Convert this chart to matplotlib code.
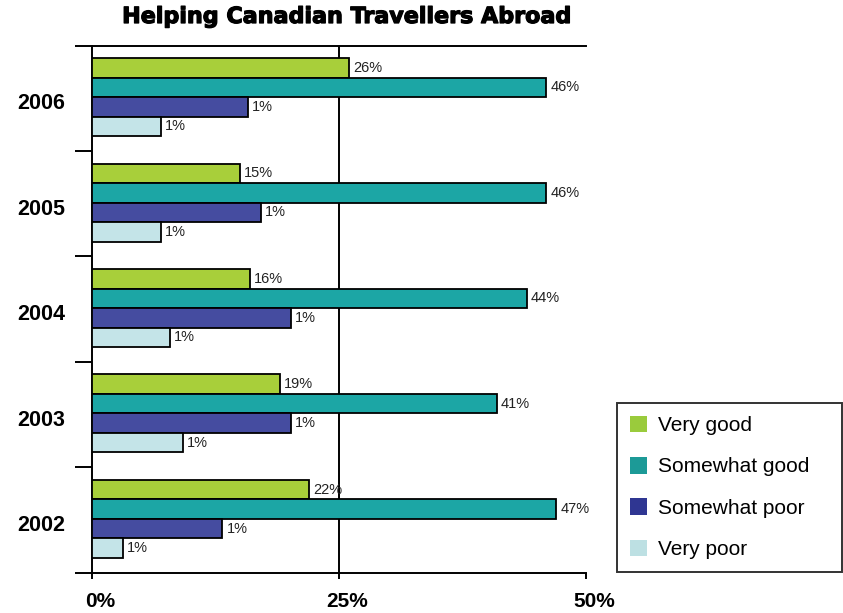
import matplotlib
matplotlib.use("Agg")
import matplotlib.pyplot as plt
import matplotlib.transforms as mtransforms
import matplotlib.patheffects as pe
from matplotlib.patches import Patch
import numpy as np

plt.rcParams["font.family"] = ["Liberation Sans", "DejaVu Sans"]

# Survey years, listed bottom to top on the chart
years = ["2002", "2003", "2004", "2005", "2006"]
series_names = ["Very good", "Somewhat good", "Somewhat poor", "Very poor"]

# Share of respondents (%) per rating
very_good = [22, 19, 16, 15, 26]
somewhat_good = [47, 41, 44, 46, 46]
somewhat_poor = [13.2, 20.1, 20.1, 17.1, 15.8]
very_poor = [3.1, 9.2, 7.9, 7.0, 7.0]

# Value labels printed beside the bars
very_good_labels = ["22%", "19%", "16%", "15%", "26%"]
somewhat_good_labels = ["47%", "41%", "44%", "46%", "46%"]
somewhat_poor_labels = ["1%", "1%", "1%", "1%", "1%"]
very_poor_labels = ["1%", "1%", "1%", "1%", "1%"]

x_ticks = [0, 25, 50]
x_tick_labels = ["0%", "25%", "50%"]

colors = ["#a8cf3a", "#1ca6a5", "#454ca0", "#c4e4e8"]
legend_colors = ["#9acb3c", "#1c9a97", "#2f3692", "#bde0e3"]

fig = plt.figure(figsize=(8.43, 6.13), dpi=100)
ax = fig.add_axes([92 / 843, 40.3 / 613, 494 / 843, 527.2 / 613])

values = [very_good, somewhat_good, somewhat_poor, very_poor]
labels = [very_good_labels, somewhat_good_labels, somewhat_poor_labels, very_poor_labels]
h = 0.185
offsets = [1.5 * h, 0.5 * h, -0.5 * h, -1.5 * h]
centers = np.arange(len(years)) + 0.5 + 0.01

pt_px = 72 / 100.0
for vals, labs, col, off in zip(values, labels, colors, offsets):
    ypos = centers + off
    ax.barh(ypos, vals, height=h, color=col, edgecolor="black",
            linewidth=1.3, zorder=3)
    for y, v, t in zip(ypos, vals, labs):
        ax.annotate(t, (v, y), xytext=(4 * pt_px, 0), textcoords="offset points",
                    ha="left", va="center", fontsize=10.5, color="#222222",
                    zorder=4)

ax.axvline(25, color="black", linewidth=1.4, zorder=2)

ax.set_xlim(0, 50)
ax.set_ylim(0, len(years))

for side in ("left", "bottom", "top"):
    ax.spines[side].set_linewidth(1.4)
ax.spines["right"].set_visible(False)

# Category boundaries as long outward ticks on the left
ax.set_yticks(np.arange(len(years) + 1))
ax.set_yticklabels([])
ax.tick_params(axis="y", which="major", length=12, width=1.4, direction="out")
ax.set_yticks(np.arange(len(years)) + 0.5, minor=True)
ax.set_yticklabels(years, minor=True, fontsize=15.5, fontweight="bold")
ax.tick_params(axis="y", which="minor", length=0, pad=19)
ydrop = mtransforms.ScaledTranslation(0, -3 / 100, fig.dpi_scale_trans)
for lab in ax.get_yticklabels(minor=True):
    lab.set_transform(lab.get_transform() + ydrop)

ax.set_xticks(x_ticks)
ax.set_xticklabels(x_tick_labels, fontsize=15, fontweight="bold")
ax.tick_params(axis="x", length=4, width=1.4, direction="out", pad=10)
xshift = mtransforms.ScaledTranslation(8 / 100, 0, fig.dpi_scale_trans)
for lab in ax.get_xticklabels():
    lab.set_transform(lab.get_transform() + xshift)

title = fig.text(347 / 843, 1 - 17 / 613, "Helping Canadian Travellers Abroad",
                 ha="center", va="center", fontsize=16, fontweight="heavy",
                 family="DejaVu Sans")
title.set_path_effects([pe.withStroke(linewidth=0.9, foreground="black")])

handles = [Patch(facecolor=c, edgecolor="none") for c in legend_colors]
leg = fig.legend(handles, series_names, loc="upper left",
                 bbox_to_anchor=(617 / 843, 0.0, 225 / 843, 1 - 403 / 613),
                 mode="expand", frameon=True, fancybox=False, fontsize=15,
                 handlelength=0.85, handleheight=0.85, handletextpad=0.5,
                 labelspacing=1.05, borderaxespad=0, borderpad=0.6)
leg.get_frame().set_edgecolor("black")
leg.get_frame().set_linewidth(1.4)

fig.savefig("out.png", dpi=100)
